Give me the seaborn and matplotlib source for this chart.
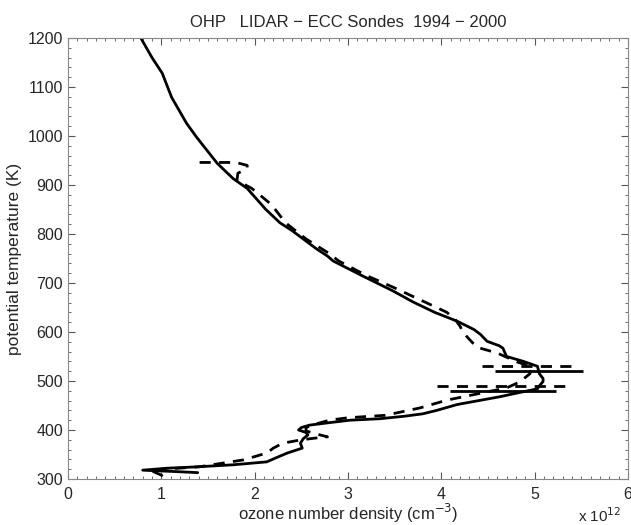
import numpy as np
import pandas as pd
import matplotlib
matplotlib.use("Agg")
import matplotlib.pyplot as plt
import seaborn as sns
from matplotlib.ticker import MultipleLocator

# LIDAR profile (solid), top to bottom
lidar_theta = [1200, 1160, 1128, 1079, 1026, 997, 944, 913, 893, 850, 823, 807, 770, 755,
               745, 715, 684, 661, 640, 622, 605, 595, 581, 572, 567, 558, 550, 540, 530,
               515, 505, 499, 490, 484, 475, 468, 460, 452, 440, 433, 428, 423, 420, 415,
               410, 405, 400, 395, 390, 382, 373, 363, 353, 345, 335, 329, 325, 322, 318,
               315, 313]
lidar_o3 = [0.78, 0.90, 1.01, 1.11, 1.27, 1.38, 1.60, 1.77, 1.92, 2.12, 2.27, 2.40, 2.66, 2.78,
            2.84, 3.15, 3.48, 3.70, 3.93, 4.17, 4.35, 4.42, 4.49, 4.62, 4.66, 4.68, 4.70, 4.88, 5.03,
            5.05, 5.09, 5.09, 5.05, 5.03, 4.80, 4.63, 4.40, 4.17, 3.95, 3.80, 3.60, 3.34, 3.02, 2.80,
            2.59, 2.50, 2.47, 2.55, 2.57, 2.52, 2.49, 2.51, 2.35, 2.25, 2.13, 1.77, 1.40, 1.06, 0.80,
            1.17, 1.39]

# ECC sonde profile (dashed)
ecc_theta = [946, 946, 940, 934, 924, 909, 893, 860, 823, 790, 760, 745, 715, 690, 665, 650,
             640, 625, 612, 600, 585, 569, 557, 539, 529, 515, 498, 486, 475, 461, 445, 430,
             425, 420, 412, 405, 398, 390, 386, 384, 380, 373, 363, 353, 339, 325, 318, 312,
             308, 302]
ecc_o3 = [1.41, 1.80, 1.92, 1.92, 1.82, 1.81, 1.97, 2.18, 2.33, 2.55, 2.80, 2.90, 3.20, 3.50,
          3.78, 3.95, 4.06, 4.15, 4.20, 4.23, 4.30, 4.38, 4.60, 4.81, 4.97, 4.95, 4.84, 4.70,
          4.42, 4.06, 3.77, 3.40, 3.00, 2.80, 2.65, 2.55, 2.55, 2.70, 2.78, 2.67, 2.50, 2.30,
          2.20, 2.13, 1.88, 1.41, 0.88, 0.95, 1.00, 1.04]

# horizontal bars around the ozone maximum
lidar_bar_theta = [520, 480]
lidar_bar_lo = [4.58, 4.09]
lidar_bar_hi = [5.52, 5.23]
ecc_bar_theta = [530, 490]
ecc_bar_lo = [4.44, 3.95]
ecc_bar_hi = [5.40, 5.40]

sns.set_style("ticks")
plt.rcParams["font.family"] = ["Liberation Sans", "DejaVu Sans"]

fig = plt.figure(figsize=(6.31, 5.25), dpi=100)
ax = fig.add_axes([68 / 631, 46 / 525, 560 / 631, 441 / 525])

lidar = pd.DataFrame({"o3": lidar_o3, "theta": lidar_theta})
ecc = pd.DataFrame({"o3": ecc_o3, "theta": ecc_theta})

sns.lineplot(data=lidar, x="o3", y="theta", sort=False, estimator=None,
             color="black", linewidth=2.0, ax=ax)
sns.lineplot(data=ecc, x="o3", y="theta", sort=False, estimator=None,
             color="black", linewidth=2.0, linestyle=(0, (4, 3)), ax=ax)

ax.hlines(lidar_bar_theta, lidar_bar_lo, lidar_bar_hi, colors="black", linewidth=2.0)
ax.hlines(ecc_bar_theta, ecc_bar_lo, ecc_bar_hi, colors="black", linewidth=2.0,
          linestyles=(0, (4, 3)))

ax.set_xlim(0, 6)
ax.set_ylim(300, 1200)
ax.xaxis.set_major_locator(MultipleLocator(1))
ax.xaxis.set_minor_locator(MultipleLocator(0.1))
ax.yaxis.set_major_locator(MultipleLocator(100))
ax.yaxis.set_minor_locator(MultipleLocator(20))
ax.tick_params(which="both", direction="in", top=True, right=True, labelsize=11.5,
               color="#555555")
ax.tick_params(which="major", length=5, width=0.8)
ax.tick_params(which="minor", length=2.5, width=0.6)
ax.tick_params(axis="x", pad=6)
for s in ax.spines.values():
    s.set_color("#888888")
    s.set_linewidth(0.8)

ax.set_xlabel("ozone number density (cm$^{-3}$)", fontsize=12, labelpad=0)
ax.set_ylabel("potential temperature (K)", fontsize=12.5, labelpad=4)
ax.set_title("OHP   LIDAR \u2212 ECC Sondes  1994 \u2212 2000", fontsize=12, pad=8)
fig.text(600 / 631, 1 - 516 / 525, "x 10$^{12}$", fontsize=11, ha="center", va="center")

fig.savefig("out.png", dpi=100)
